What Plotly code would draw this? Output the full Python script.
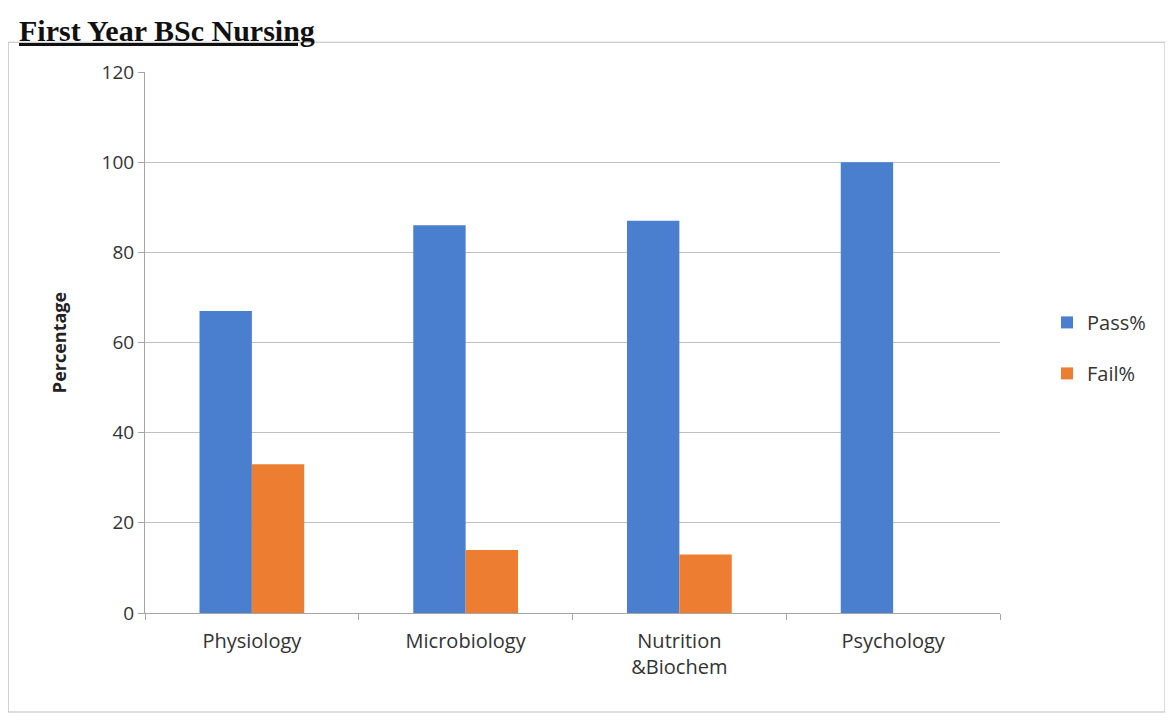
import plotly.graph_objects as go

# Datos del gráfico
asignaturas = ["Physiology", "Microbiology", "Nutrition<br>&Biochem", "Psychology"]
aprobados = [67, 86, 87, 100]
suspensos = [33, 14, 13, 0]

AZUL = "#4a7fcf"
NARANJA = "#ed7d31"
FUENTE = "Open Sans, Noto Sans, sans-serif"

fig = go.Figure()

fig.add_trace(go.Bar(
    x=asignaturas,
    y=aprobados,
    name="Pass%",
    legendgroup="pass",
    marker=dict(color=AZUL, line=dict(width=0)),
))
fig.add_trace(go.Bar(
    x=asignaturas,
    y=suspensos,
    name="Fail%",
    legendgroup="fail",
    marker=dict(color=NARANJA, line=dict(width=0)),
))

fig.update_layout(
    width=1165,
    height=713,
    margin=dict(l=137, r=173, t=64, b=108),
    paper_bgcolor="white",
    plot_bgcolor="white",
    barmode="group",
    bargap=0.51,
    bargroupgap=0,
    font=dict(family=FUENTE, color="#333333"),
    legend=dict(
        x=1.055, y=0.49, xanchor="left", yanchor="middle",
        font=dict(size=20, color="#333333"),
        itemwidth=30,
        traceorder="grouped",
        tracegroupgap=22,
    ),
    xaxis=dict(
        showgrid=False,
        showline=True,
        linecolor="#a6a6a6",
        linewidth=1,
        ticks="outside",
        tickson="boundaries",
        ticklen=6,
        tickcolor="#a6a6a6",
        ticklabelstandoff=10,
        tickfont=dict(size=20, color="#333333"),
    ),
    yaxis=dict(
        range=[0, 120],
        dtick=20,
        showgrid=True,
        gridcolor="#bfbfbf",
        gridwidth=1,
        showline=True,
        linecolor="#a6a6a6",
        ticks="outside",
        ticklen=6,
        tickcolor="#a6a6a6",
        zeroline=False,
        tickfont=dict(size=19, color="#333333"),
        title=dict(text="<b>Percentage</b>", font=dict(size=18, color="#222222"), standoff=30),
    ),
)

# Marco exterior del gráfico
fig.add_shape(
    type="rect", xref="paper", yref="paper",
    x0=-0.160, x1=1.193, y0=-0.183, y1=1.055,
    line=dict(color="#bdbdbd", width=1),
)

# Título de la página
fig.add_annotation(
    text="<b>First Year BSc Nursing</b>",
    xref="paper", yref="paper",
    x=-0.15, y=1.11, xanchor="left", yanchor="top",
    showarrow=False,
    font=dict(family="Liberation Serif, Times New Roman, serif", size=30,
              color="#111111", lineposition="under"),
)

fig.write_html("out.html")
